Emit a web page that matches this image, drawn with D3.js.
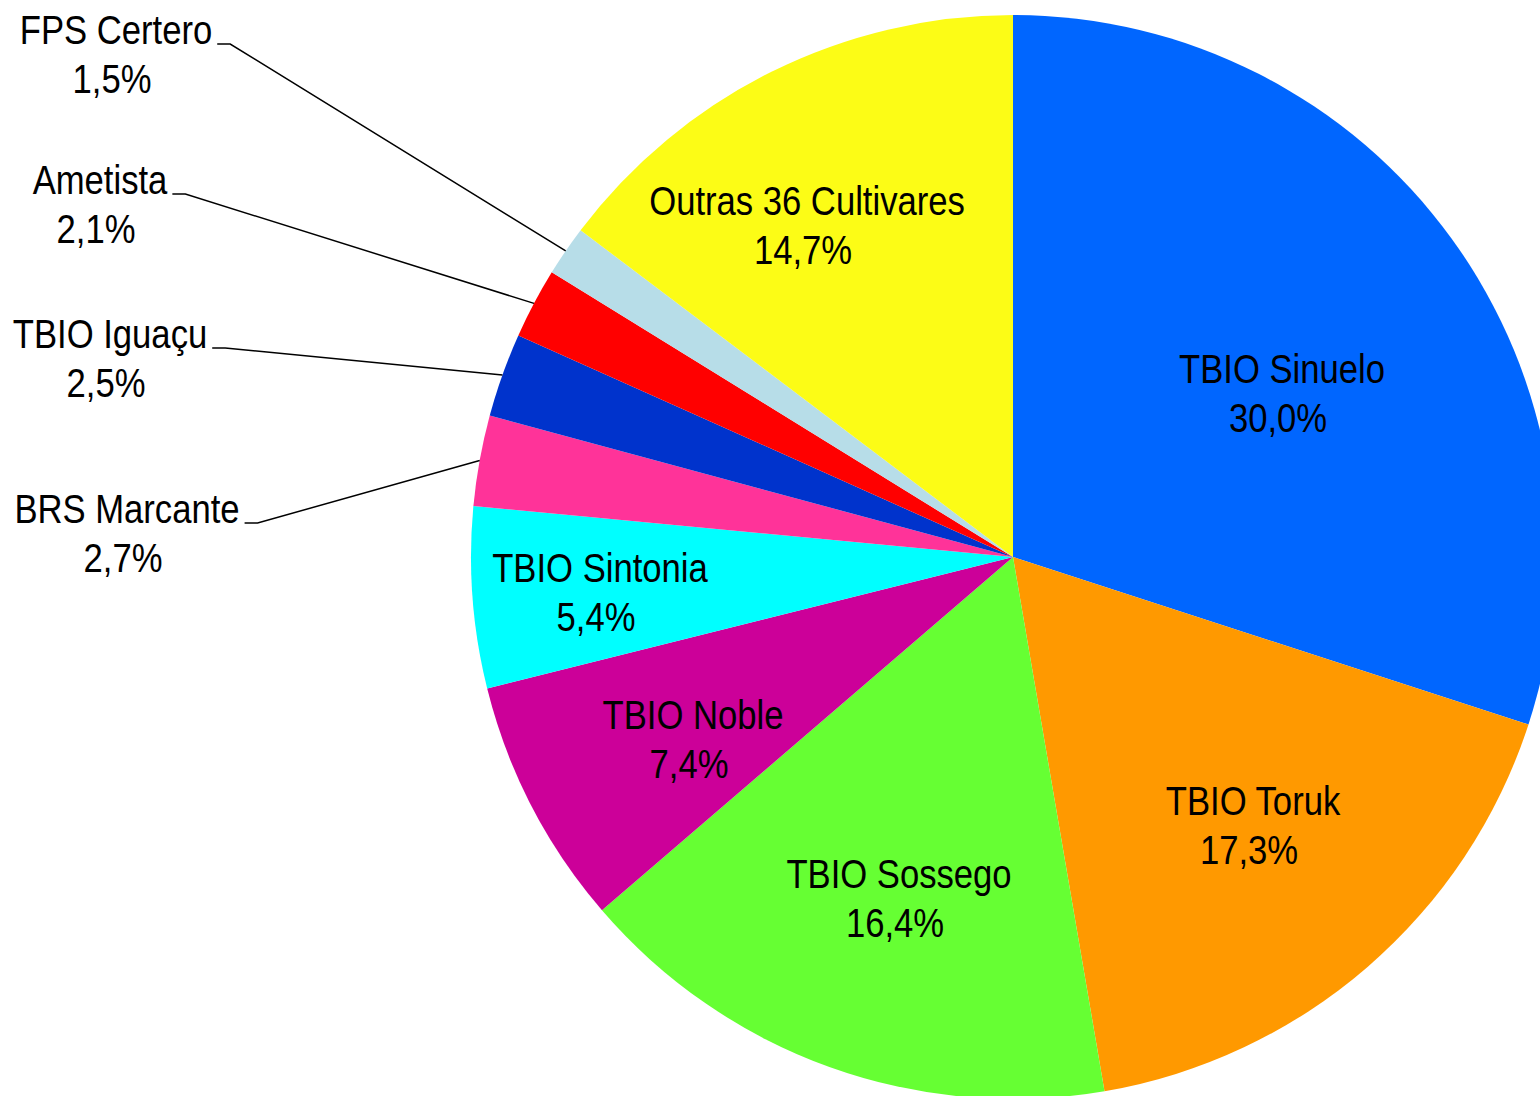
<!DOCTYPE html>
<html>
<head>
<meta charset="utf-8">
<script src="https://cdn.jsdelivr.net/npm/d3@7"></script>
<style>
  html, body { margin: 0; padding: 0; background: #fff; }
  #chart { width: 1540px; height: 1096px; overflow: hidden; }
</style>
</head>
<body>
<div id="chart"></div>
<script>
// Data
const cultivars = ['TBIO Sinuelo', 'TBIO Toruk', 'TBIO Sossego', 'TBIO Noble', 'TBIO Sintonia',
    'BRS Marcante', 'TBIO Iguaçu', 'Ametista', 'FPS Certero', 'Outras 36 Cultivares'];
const shares = [30.0, 17.3, 16.4, 7.4, 5.4, 2.7, 2.5, 2.1, 1.5, 14.7];
const sliceColors = ['#0066ff', '#ff9900', '#66ff33', '#cc0099', '#00ffff',
    '#ff3399', '#0033cc', '#ff0000', '#b7dde8', '#fcfc16'];

// Label placement (centre x, first baseline); outside = drawn with a leader line
const labelPos = [
    [1282, 383], [1253, 815], [899, 888], [693, 729], [600, 582],
    [127, 523], [110, 348], [100, 194], [116, 44], [807, 215]
];
const outside = [false, false, false, false, false, true, true, true, true, false];

const width = 1540, height = 1096;
const cx = 1013, cy = 557, radius = 542;
const fontSize = 41, lineGap = 49;

const svg = d3.select('#chart').append('svg')
    .attr('width', width)
    .attr('height', height)
    .attr('viewBox', `0 0 ${width} ${height}`);

const rows = cultivars.map((name, i) => ({ name, value: shares[i], color: sliceColors[i], i }));

const pie = d3.pie().sort(null).value(d => d.value);
const arc = d3.arc().innerRadius(0).outerRadius(radius);
const arcs = pie(rows);

const g = svg.append('g').attr('transform', `translate(${cx},${cy})`);

g.selectAll('path.slice')
    .data(arcs)
    .join('path')
    .attr('class', 'slice')
    .attr('d', arc)
    .attr('fill', d => d.data.color);

// Narrow font detection: fall back to horizontal squeeze if no narrow face
const fam = "'Liberation Sans Narrow', 'Arial Narrow', 'Liberation Sans', Arial, sans-serif";
const probe = svg.append('text').style('font-family', fam).style('font-size', '100px').text('TBIO Sinuelo');
const probeW = probe.node().getComputedTextLength();
probe.style('font-family', "'Liberation Sans', Arial, sans-serif");
const wideW = probe.node().getComputedTextLength();
probe.remove();
const squeeze = probeW < wideW * 0.95 ? 1.03 : 0.845;

const fmt = v => d3.format('.1f')(v).replace('.', ',') + '%';

const labels = svg.append('g').attr('class', 'labels');

rows.forEach((d, i) => {
    const [lx, ly] = labelPos[i];
    const lab = labels.append('g').attr('transform', `translate(${lx},${ly}) scale(${squeeze},1)`);
    const t1 = lab.append('text')
        .attr('text-anchor', 'middle')
        .style('font-family', fam)
        .style('font-size', fontSize + 'px')
        .attr('fill', '#000')
        .text(d.name);
    lab.append('text')
        .attr('x', -4 / squeeze)
        .attr('y', lineGap)
        .attr('text-anchor', 'middle')
        .style('font-family', fam)
        .style('font-size', fontSize + 'px')
        .attr('fill', '#000')
        .text(fmt(d.value));

    if (outside[i]) {
        const half = t1.node().getComputedTextLength() * squeeze / 2;
        const a = arcs[i];
        const mid = (a.startAngle + a.endAngle) / 2;
        const ex = cx + radius * Math.sin(mid);
        const ey = cy - radius * Math.cos(mid);
        const x0 = lx + half + 5;
        const x1 = x0 + 13;
        svg.append('polyline')
            .attr('points', `${x0},${ly} ${x1},${ly} ${ex},${ey}`)
            .attr('fill', 'none')
            .attr('stroke', '#000')
            .attr('stroke-width', 1.5);
    }
});
</script>
</body>
</html>
